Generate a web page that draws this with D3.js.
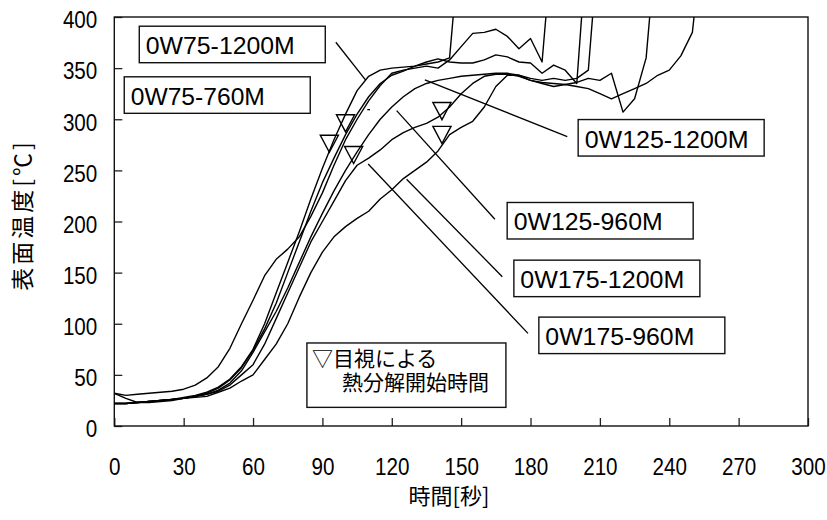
<!DOCTYPE html>
<html>
<head>
<meta charset="utf-8">
<script src="https://cdn.jsdelivr.net/npm/d3@7/dist/d3.min.js"></script>
<style>
  html, body { margin: 0; padding: 0; background: #fff; }
  svg { display: block; }
</style>
</head>
<body>
<svg id="chart" width="827" height="520"></svg>
<script>
// Surface temperature histories (°C), sampled every 5 s from t = 0
const STEP = 5;
const s0W75_1200 = [22,22,23,24,25,26,28,30,33,38,46,58,75,100,130,160,190,222,252,280,305,328,342,348,350,351,352,354,356,360,490];
const s0W75_760  = [32,30,31,32,33,34,36,40,47,58,76,100,123,147,163,173,185,205,228,255,280,300,318,333,345,348,350,352,350,358,371,384,385,388,381,369,379,356,490];
const s0W125_1200 = [32,27,23,23,24,25,27,29,32,37,45,57,74,95,120,150,180,210,238,262,285,305,322,335,343,347,352,356,359,356,355,355,358,363,361,356,355,345,353,348,335,490];
const s0W125_960 = [22,22,23,24,25,26,27,29,31,35,42,54,72,92,112,135,160,185,208,230,250,268,285,300,312,322,330,335,338,340,342,343,344,345,345,343,340,338,340,338,340,348,490];
const s0W175_960 = [22,22,23,24,25,26,27,29,31,34,40,50,60,80,105,130,155,180,200,220,240,255,262,270,280,287,292,296,302,312,325,335,342,344,344,342,338,336,335,334,336,340,338,345,307,320,360,490];
const s0W175_1200 = [22,22,23,24,25,26,27,28,29,33,37,44,50,65,80,100,126,150,170,185,195,203,210,222,231,242,250,258,269,285,292,298,312,332,343,343,338,335,332,334,332,330,325,320,325,330,335,343,348,362,385,490];

const seriesList = [s0W75_1200, s0W75_760, s0W125_1200, s0W125_960, s0W175_960, s0W175_1200];

// Visually observed onset of thermal decomposition: [time s, temperature °C]
const onsetTimes = [93, 100, 103.5, 141.7, 141.7];
const onsetTemps = [276, 296, 265, 308, 284.6];

// Label boxes: text, box anchor [s, °C], leader from / to [s, °C]
const labelNames = ["0W75-1200M", "0W75-760M", "0W125-1200M", "0W125-960M", "0W175-1200M", "0W175-960M"];
const labelAnchor = [[10.8, 391], [4.3, 341.5], [200.6, 299.7], [169.9, 218.6], [172.8, 162.2], [183.6, 106.5]];
const leaderFrom = [[95.8, 375.3], [109.4, 309.4], [134.3, 338.5], [122.1, 308.4], [126.4, 241.3], [109.8, 256.2]];
const leaderTo   = [[108.7, 338.2], [110.6, 309.4], [195.9, 283.0], [164.6, 202.2], [167.8, 146.0], [178.9, 90.6]];

const xTicks = [0, 30, 60, 90, 120, 150, 180, 210, 240, 270, 300];
const yTicks = [0, 50, 100, 150, 200, 250, 300, 350, 400];
const xTitle = "時間[秒]";
const yTitle = "表面温度[℃]";
const noteLines = ["▽目視による", "熱分解開始時間"];

const svg = d3.select("#chart");
const x = d3.scaleLinear().domain([0, 300]).range([114.3, 808]);
const y = d3.scaleLinear().domain([0, 400]).range([426, 17]);

const latin = "'Liberation Sans', Arial, sans-serif";
const cjk = "'Noto Sans CJK JP', 'Noto Sans CJK SC', sans-serif";
const noteFont = "'Liberation Sans', 'Noto Sans CJK JP', sans-serif";
const narrow = 0.86;   // horizontal squeeze for the tall, narrow digits

svg.append("defs").append("clipPath").attr("id", "plotClip")
  .append("rect")
  .attr("x", x(0)).attr("y", y(400))
  .attr("width", x(300) - x(0)).attr("height", y(0) - y(400));

// Axes with inward ticks
const yAxis = svg.append("g").attr("transform", `translate(${x(0)},0)`)
  .call(d3.axisLeft(y).tickValues(yTicks).tickSize(-8).tickPadding(16));
const xAxis = svg.append("g").attr("transform", `translate(0,${y(0)})`)
  .call(d3.axisBottom(x).tickValues(xTicks).tickSize(-8).tickPadding(32));
[yAxis, xAxis].forEach(g => {
  g.select(".domain").remove();
  g.selectAll(".tick line").attr("stroke", "#222").attr("stroke-width", 1.3);
  g.selectAll(".tick text")
    .attr("fill", "#000")
    .style("font-family", latin)
    .style("font-size", "24px")
    .attr("transform", `scale(${narrow},1)`);
});
yAxis.selectAll(".tick text").attr("x", -17 / narrow).attr("dy", "0.45em");
xAxis.selectAll(".tick text").attr("dy", "0.71em");

// Plot frame
svg.append("rect")
  .attr("x", x(0)).attr("y", y(400))
  .attr("width", x(300) - x(0)).attr("height", y(0) - y(400))
  .attr("fill", "none").attr("stroke", "#111").attr("stroke-width", 1.4);

// Temperature curves
const line = d3.line().x((d, i) => x(i * STEP)).y(d => y(d));
svg.append("g").attr("clip-path", "url(#plotClip)")
  .selectAll("path").data(seriesList).join("path")
  .attr("d", line)
  .attr("fill", "none").attr("stroke", "#000").attr("stroke-width", 1.4)
  .attr("stroke-linejoin", "round");

// Onset markers: downward triangles centred on their bounding box
const downTriangle = {
  draw(context, size) {
    const w = Math.sqrt(size) * 0.74, h = Math.sqrt(size) * 0.7;
    context.moveTo(-w, -h);
    context.lineTo(w, -h);
    context.lineTo(0, h);
    context.closePath();
  }
};
const tri = d3.symbol().type(downTriangle).size(150);
svg.append("g").selectAll("path").data(onsetTimes).join("path")
  .attr("d", tri)
  .attr("transform", (d, i) => `translate(${x(d)},${y(onsetTemps[i])})`)
  .attr("fill", "none").attr("stroke", "#000").attr("stroke-width", 1.4)
  .attr("stroke-linejoin", "miter");

// Leader lines
svg.append("g").selectAll("line").data(leaderFrom).join("line")
  .attr("x1", d => x(d[0])).attr("y1", d => y(d[1]))
  .attr("x2", (d, i) => x(leaderTo[i][0])).attr("y2", (d, i) => y(leaderTo[i][1]))
  .attr("stroke", "#000").attr("stroke-width", 1.3);

// Series label boxes
const boxes = svg.append("g").selectAll("g").data(labelNames).join("g")
  .attr("transform", (d, i) => `translate(${x(labelAnchor[i][0])},${y(labelAnchor[i][1])})`);
boxes.append("rect")
  .attr("width", 186).attr("height", 36.5)
  .attr("fill", "#fff").attr("stroke", "#111").attr("stroke-width", 1.4);
boxes.append("text")
  .attr("x", 6.5).attr("y", 28)
  .style("font-family", latin).style("font-size", "24px")
  .attr("lengthAdjust", "spacingAndGlyphs")
  .attr("textLength", d => d.length * 14.9)
  .text(d => d);

// Note box for the onset markers
const note = svg.append("g");
note.append("rect")
  .attr("x", x(83.3)).attr("y", y(81.2))
  .attr("width", 199).attr("height", 64.4)
  .attr("fill", "#fff").attr("stroke", "#111").attr("stroke-width", 1.4);
note.selectAll("text").data(noteLines).join("text")
  .attr("x", (d, i) => i === 0 ? 312 : 342)
  .attr("y", (d, i) => 366 + i * 24)
  .style("font-family", noteFont).style("font-size", "21px")
  .text(d => d);

// Axis titles
svg.append("text")
  .attr("x", 449).attr("y", 504)
  .attr("text-anchor", "middle")
  .style("font-family", cjk).style("font-size", "22px")
  .text(xTitle);
svg.append("text")
  .attr("transform", `translate(31,215) rotate(-90)`)
  .attr("text-anchor", "middle")
  .style("font-family", cjk).style("font-size", "23px")
  .style("letter-spacing", "3px")
  .text(yTitle);
</script>
</body>
</html>
